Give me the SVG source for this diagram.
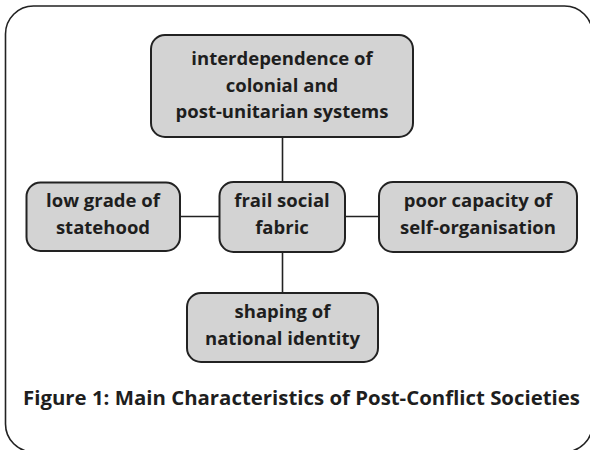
<svg xmlns="http://www.w3.org/2000/svg" width="590" height="450" viewBox="0 0 590 450">
<style>
.box{fill:#d3d3d3;stroke:#222;stroke-width:2}
.t{font-family:"Open Sans","DejaVu Sans",sans-serif;font-weight:700;font-size:18.5px;fill:#1e1e1e;text-anchor:middle}
.cap{font-family:"Open Sans","DejaVu Sans",sans-serif;font-weight:700;font-size:20px;fill:#1e1e1e;text-anchor:middle}
.line{stroke:#222;stroke-width:1.6;fill:none}
</style>
<rect x="5.5" y="6" width="587" height="446" rx="28" fill="#fff" stroke="#222" stroke-width="1.6"/>
<g id="connectors">
<line class="line" x1="282.5" y1="136" x2="282.5" y2="182"/>
<line class="line" x1="282.5" y1="252" x2="282.5" y2="293"/>
<line class="line" x1="180" y1="216.5" x2="219" y2="216.5"/>
<line class="line" x1="345" y1="216.5" x2="379" y2="216.5"/>
</g>
<g id="n-top">
<rect class="box" x="151" y="35" width="262" height="102" rx="14"/>
<text class="t" x="282" y="65">interdependence of</text>
<text class="t" x="282" y="91.5">colonial and</text>
<text class="t" x="282" y="118">post-unitarian systems</text>
</g>
<g id="n-left">
<rect class="box" x="26.5" y="182.5" width="153.5" height="68.5" rx="14"/>
<text class="t" x="103" y="207">low grade of</text>
<text class="t" x="103" y="234">statehood</text>
</g>
<g id="n-center">
<rect class="box" x="219.5" y="182" width="125.5" height="70" rx="14"/>
<text class="t" x="282" y="206.5">frail social</text>
<text class="t" x="282" y="233.5">fabric</text>
</g>
<g id="n-right">
<rect class="box" x="379" y="182" width="198" height="70" rx="14"/>
<text class="t" x="478" y="207">poor capacity of</text>
<text class="t" x="478" y="234">self-organisation</text>
</g>
<g id="n-bottom">
<rect class="box" x="187" y="293" width="191" height="69" rx="14"/>
<text class="t" x="282.5" y="318">shaping of</text>
<text class="t" x="282.5" y="345">national identity</text>
</g>
<text class="cap" x="301.5" y="405" textLength="557" lengthAdjust="spacingAndGlyphs">Figure 1: Main Characteristics of Post-Conflict Societies</text>
</svg>
